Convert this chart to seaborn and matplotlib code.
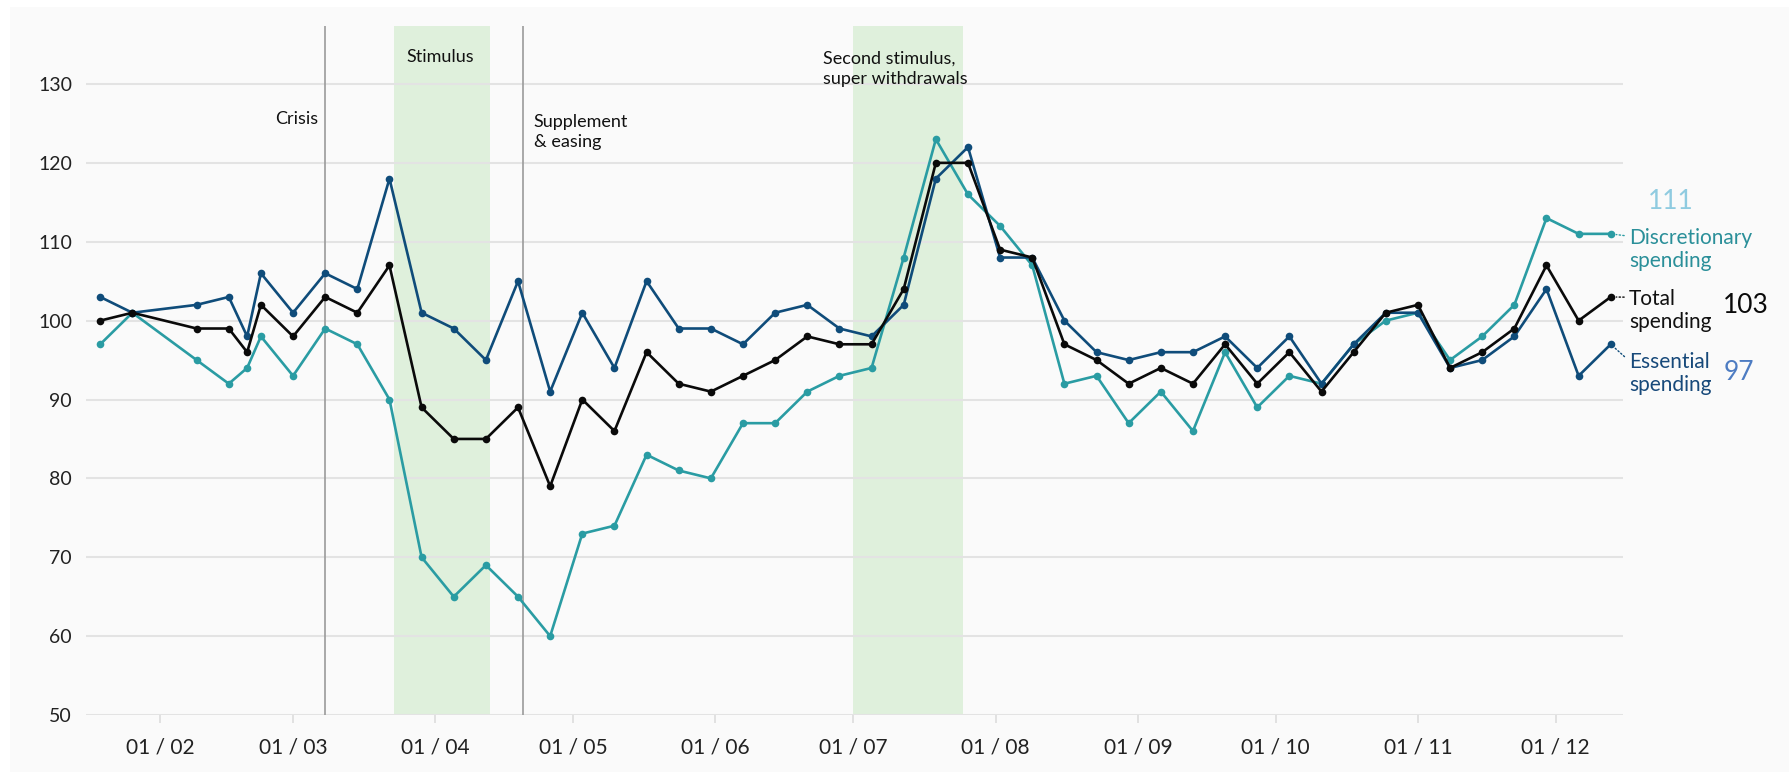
import matplotlib
matplotlib.use("Agg")
import matplotlib.pyplot as plt
import matplotlib.dates as mdates
from matplotlib.patches import Rectangle
import pandas as pd
import seaborn as sns

# weekly observations, 2020
week_dates = [
    "2020-01-19", "2020-01-26", "2020-02-09", "2020-02-16", "2020-02-20", "2020-02-23",
    "2020-03-01", "2020-03-08", "2020-03-15", "2020-03-22", "2020-03-29", "2020-04-05",
    "2020-04-12", "2020-04-19", "2020-04-26", "2020-05-03", "2020-05-10", "2020-05-17",
    "2020-05-24", "2020-05-31", "2020-06-07", "2020-06-14", "2020-06-21", "2020-06-28",
    "2020-07-05", "2020-07-12", "2020-07-19", "2020-07-26", "2020-08-02", "2020-08-09",
    "2020-08-16", "2020-08-23", "2020-08-30", "2020-09-06", "2020-09-13", "2020-09-20",
    "2020-09-27", "2020-10-04", "2020-10-11", "2020-10-18", "2020-10-25", "2020-11-01",
    "2020-11-08", "2020-11-15", "2020-11-22", "2020-11-29", "2020-12-06", "2020-12-13",
]

total_spending = [
    100, 101, 99, 99, 96, 102, 98, 103, 101, 107, 89, 85,
    85, 89, 79, 90, 86, 96, 92, 91, 93, 95, 98, 97,
    97, 104, 120, 120, 109, 108, 97, 95, 92, 94, 92, 97,
    92, 96, 91, 96, 101, 102, 94, 96, 99, 107, 100, 103,
]

essential_spending = [
    103, 101, 102, 103, 98, 106, 101, 106, 104, 118, 101, 99,
    95, 105, 91, 101, 94, 105, 99, 99, 97, 101, 102, 99,
    98, 102, 118, 122, 108, 108, 100, 96, 95, 96, 96, 98,
    94, 98, 92, 97, 101, 101, 94, 95, 98, 104, 93, 97,
]

discretionary_spending = [
    97, 101, 95, 92, 94, 98, 93, 99, 97, 90, 70, 65,
    69, 65, 60, 73, 74, 83, 81, 80, 87, 87, 91, 93,
    94, 108, 123, 116, 112, 107, 92, 93, 87, 91, 86, 96,
    89, 93, 92, 97, 100, 101, 95, 98, 102, 113, 111, 111,
]

month_ticks = ["2020-02-01", "2020-03-01", "2020-04-01", "2020-05-01", "2020-06-01",
               "2020-07-01", "2020-08-01", "2020-09-01", "2020-10-01", "2020-11-01",
               "2020-12-01"]
y_ticks = [50, 60, 70, 80, 90, 100, 110, 120, 130]

event_dates = ["2020-03-08", "2020-04-20"]
event_labels = ["Crisis", "Supplement\n& easing"]
stimulus_starts = ["2020-03-23", "2020-07-01"]
stimulus_ends = ["2020-04-13", "2020-07-25"]
stimulus_labels = ["Stimulus", "Second stimulus,\nsuper withdrawals"]

series_names = ["Discretionary spending", "Essential spending", "Total spending"]
series_labels = ["Discretionary\nspending", "Essential\nspending", "Total\nspending"]
line_colors = ["#2a9ca3", "#0f4c7a", "#0a0a0a"]
label_colors = ["#2a8f99", "#17497a", "#111111"]
number_colors = ["#8fcbe0", "#4d7cc2", "#0a0a0a"]

sns.set_theme(style="whitegrid")
plt.rcParams["font.family"] = ["Lato", "DejaVu Sans"]

df = pd.DataFrame({
    "date": pd.to_datetime(week_dates),
    "Discretionary spending": discretionary_spending,
    "Essential spending": essential_spending,
    "Total spending": total_spending,
})
long_df = df.melt(id_vars="date", var_name="series", value_name="index")

fig = plt.figure(figsize=(17.89, 7.72), dpi=100, facecolor="white")
fig.patches.append(Rectangle((10 / 1789, 0), 1, (772 - 7) / 772, transform=fig.transFigure,
                             facecolor="#fafafa", edgecolor="none", zorder=-10))
ax = fig.add_axes([0.048, 0.0738, 0.859, 0.892])
ax.set_facecolor("#fafafa")

for start, end in zip(stimulus_starts, stimulus_ends):
    ax.axvspan(pd.Timestamp(start), pd.Timestamp(end), color="#dff0dc", zorder=0.2, lw=0)
for d in event_dates:
    ax.axvline(pd.Timestamp(d), color="#9a9a9a", lw=1.2, zorder=1)

sns.lineplot(data=long_df, x="date", y="index", hue="series", hue_order=series_names,
             palette=line_colors, marker="o", markersize=5.5, markeredgewidth=0,
             linewidth=1.9, legend=False, ax=ax, zorder=3)

ax.set_xlim(pd.Timestamp("2020-01-15 21:00"), pd.Timestamp("2020-12-15 14:00"))
ax.set_ylim(50, 137.3)
ax.set_yticks(y_ticks)
ax.set_xticks(pd.to_datetime(month_ticks))
ax.xaxis.set_major_formatter(mdates.DateFormatter("%d / %m"))
ax.set_xlabel("")
ax.set_ylabel("")
ax.grid(axis="x", visible=False)
ax.grid(axis="y", color="#e3e3e3", lw=1.5)
ax.set_axisbelow(True)
for s in ax.spines.values():
    s.set_visible(False)
ax.tick_params(axis="x", bottom=True, length=6, width=1.2, color="#dddddd",
               labelsize=15, labelcolor="#222222", pad=10)
ax.tick_params(axis="y", length=0, labelsize=14, labelcolor="#222222", pad=10)

# event annotations
txt = dict(fontsize=13, color="#111111", textcoords="offset points", va="center",
           linespacing=1.35, annotation_clip=False)
ax.annotate(event_labels[0], xy=(pd.Timestamp(event_dates[0]), 125.5), xytext=(-5, 0),
            ha="right", **txt)
ax.annotate(event_labels[1], xy=(pd.Timestamp(event_dates[1]), 123.9), xytext=(8, 0),
            ha="left", **txt)
ax.annotate(stimulus_labels[0], xy=(pd.Timestamp(stimulus_starts[0]), 133.4), xytext=(9, 0),
            ha="left", **txt)
ax.annotate(stimulus_labels[1], xy=(pd.Timestamp(stimulus_starts[1]), 131.9), xytext=(-22, 0),
            ha="left", **txt)

# end-of-line labels
last_date = df["date"].iloc[-1]
label_dy = [-11, -21, -9.5]
number_dx = [43, 92, 97]
number_dy = [23, -20, -6.5]
for i, name in enumerate(series_names):
    last_val = df[name].iloc[-1]
    ax.annotate(series_labels[i], xy=(last_date, last_val), xytext=(13, label_dy[i]),
                textcoords="offset points", ha="left", va="center", fontsize=15,
                color=label_colors[i], linespacing=1.2, annotation_clip=False,
                arrowprops=dict(arrowstyle="-", ls=":", lw=1, color=line_colors[i],
                                relpos=(0, 0.8), shrinkA=1, shrinkB=4))
    ax.annotate(str(int(last_val)), xy=(last_date, last_val), xytext=(number_dx[i], number_dy[i]),
                textcoords="offset points", ha="center", va="center", fontsize=19,
                color=number_colors[i], annotation_clip=False)

fig.savefig("out.png", dpi=100, facecolor=fig.get_facecolor())
